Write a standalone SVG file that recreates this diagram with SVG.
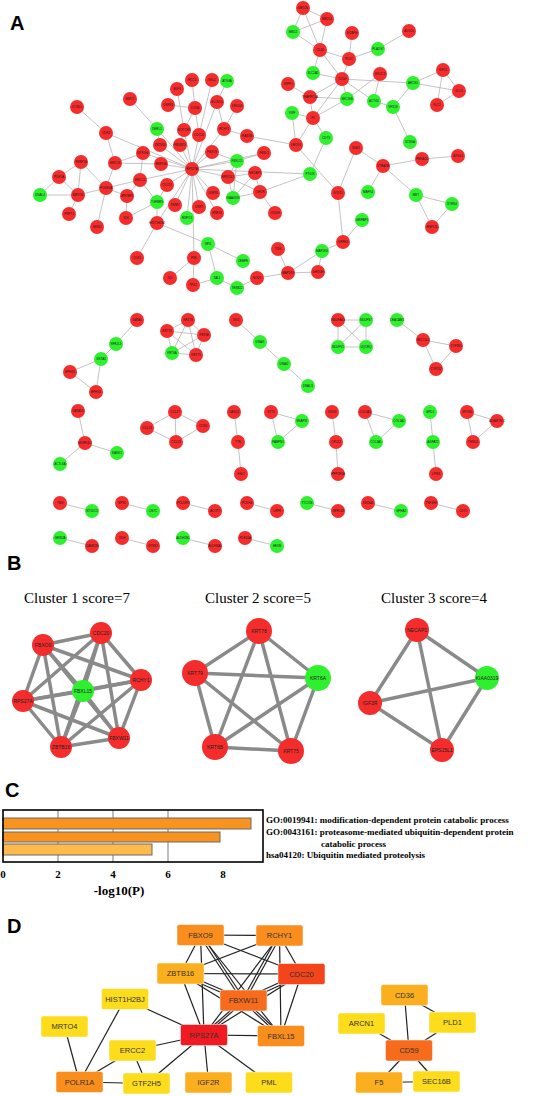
<svg xmlns="http://www.w3.org/2000/svg" width="533" height="1096" viewBox="0 0 533 1096">
<style>
.e{stroke:#b5b5b5;stroke-width:0.8;fill:none}
.r{fill:#f42c2c}
.g{fill:#2ef02e}
.t{font-family:"Liberation Sans",Arial,sans-serif;font-size:3px;text-anchor:middle;fill:#1a1a1a}
.pl{font-family:"Liberation Sans",Arial,sans-serif;font-weight:bold;font-size:20px;fill:#000}
.be{stroke:#8a8a8a;stroke-width:3.5;stroke-linecap:round}
.bt{font-family:"Liberation Sans",Arial,sans-serif;font-size:5px;text-anchor:middle;fill:#222}
.ct{font-family:"Liberation Serif","Times New Roman",serif;font-size:15px;text-anchor:middle;fill:#000}
.gt{font-family:"Liberation Serif","Times New Roman",serif;font-weight:bold;font-size:9px;fill:#000}
.ax{font-family:"Liberation Serif","Times New Roman",serif;font-weight:bold;font-size:11px;text-anchor:middle;fill:#000}
.de{stroke:#222;stroke-width:1.2}
.dt{font-family:"Liberation Sans",Arial,sans-serif;font-size:7.5px;text-anchor:middle;fill:#333}
.dr{stroke:#fff;stroke-width:0.5}
</style>

<!-- Panel labels -->
<text class="pl" x="10" y="30">A</text>
<text class="pl" x="7" y="570">B</text>
<text class="pl" x="5" y="797">C</text>
<text class="pl" x="7" y="933">D</text>

<!-- ================= PANEL A connectors ================= -->
<g id="a-edges" class="e">
<line x1="77" y1="107" x2="106" y2="133"/>
<line x1="106" y1="133" x2="192" y2="169"/>
<line x1="106" y1="133" x2="115" y2="163"/>
<line x1="130" y1="99" x2="157" y2="129"/>
<line x1="177" y1="89" x2="184" y2="130"/>
<line x1="192" y1="80" x2="195" y2="108"/>
<line x1="168" y1="105" x2="195" y2="108"/>
<line x1="195" y1="108" x2="184" y2="130"/>
<line x1="195" y1="108" x2="199" y2="135"/>
<line x1="157" y1="129" x2="160" y2="145"/>
<line x1="157" y1="129" x2="192" y2="169"/>
<line x1="184" y1="130" x2="192" y2="169"/>
<line x1="184" y1="130" x2="180" y2="145"/>
<line x1="212" y1="80" x2="199" y2="135"/>
<line x1="227" y1="81" x2="217" y2="102"/>
<line x1="217" y1="102" x2="224" y2="129"/>
<line x1="217" y1="102" x2="192" y2="169"/>
<line x1="237" y1="106" x2="224" y2="129"/>
<line x1="224" y1="129" x2="247" y2="136"/>
<line x1="224" y1="129" x2="192" y2="169"/>
<line x1="247" y1="136" x2="296" y2="145"/>
<line x1="199" y1="135" x2="192" y2="169"/>
<line x1="160" y1="145" x2="192" y2="169"/>
<line x1="180" y1="145" x2="192" y2="169"/>
<line x1="81" y1="162" x2="59" y2="177"/>
<line x1="81" y1="162" x2="78" y2="195"/>
<line x1="81" y1="162" x2="106" y2="188"/>
<line x1="59" y1="177" x2="40" y2="195"/>
<line x1="59" y1="177" x2="78" y2="195"/>
<line x1="40" y1="195" x2="78" y2="195"/>
<line x1="78" y1="195" x2="106" y2="188"/>
<line x1="69" y1="214" x2="78" y2="195"/>
<line x1="106" y1="188" x2="115" y2="163"/>
<line x1="106" y1="188" x2="140" y2="180"/>
<line x1="106" y1="188" x2="127" y2="196"/>
<line x1="106" y1="188" x2="97" y2="227"/>
<line x1="115" y1="163" x2="143" y2="153"/>
<line x1="115" y1="163" x2="161" y2="164"/>
<line x1="143" y1="153" x2="140" y2="180"/>
<line x1="143" y1="153" x2="192" y2="169"/>
<line x1="161" y1="164" x2="192" y2="169"/>
<line x1="140" y1="180" x2="192" y2="169"/>
<line x1="140" y1="180" x2="127" y2="196"/>
<line x1="140" y1="180" x2="157" y2="202"/>
<line x1="127" y1="196" x2="126" y2="218"/>
<line x1="167" y1="185" x2="192" y2="169"/>
<line x1="167" y1="185" x2="157" y2="202"/>
<line x1="157" y1="202" x2="126" y2="218"/>
<line x1="157" y1="202" x2="157" y2="223"/>
<line x1="175" y1="205" x2="192" y2="169"/>
<line x1="157" y1="223" x2="192" y2="169"/>
<line x1="157" y1="223" x2="137" y2="258"/>
<line x1="157" y1="223" x2="208" y2="244"/>
<line x1="187" y1="218" x2="192" y2="169"/>
<line x1="199" y1="207" x2="192" y2="169"/>
<line x1="192" y1="169" x2="194" y2="258"/>
<line x1="194" y1="258" x2="170" y2="278"/>
<line x1="194" y1="258" x2="193" y2="285"/>
<line x1="212" y1="152" x2="192" y2="169"/>
<line x1="212" y1="152" x2="237" y2="161"/>
<line x1="237" y1="161" x2="192" y2="169"/>
<line x1="237" y1="161" x2="264" y2="153"/>
<line x1="237" y1="161" x2="228" y2="177"/>
<line x1="237" y1="161" x2="233" y2="198"/>
<line x1="264" y1="153" x2="192" y2="169"/>
<line x1="228" y1="177" x2="192" y2="169"/>
<line x1="228" y1="177" x2="255" y2="173"/>
<line x1="228" y1="177" x2="233" y2="198"/>
<line x1="228" y1="177" x2="260" y2="192"/>
<line x1="255" y1="173" x2="233" y2="198"/>
<line x1="255" y1="173" x2="260" y2="192"/>
<line x1="233" y1="198" x2="260" y2="192"/>
<line x1="213" y1="193" x2="192" y2="169"/>
<line x1="217" y1="213" x2="192" y2="169"/>
<line x1="260" y1="192" x2="275" y2="213"/>
<line x1="260" y1="192" x2="310" y2="174"/>
<line x1="192" y1="169" x2="310" y2="174"/>
<line x1="310" y1="174" x2="326" y2="138"/>
<line x1="296" y1="145" x2="338" y2="193"/>
<line x1="296" y1="145" x2="292" y2="113"/>
<line x1="296" y1="145" x2="313" y2="118"/>
<line x1="356" y1="148" x2="338" y2="193"/>
<line x1="356" y1="148" x2="383" y2="166"/>
<line x1="338" y1="193" x2="343" y2="242"/>
<line x1="343" y1="242" x2="362" y2="220"/>
<line x1="343" y1="242" x2="322" y2="251"/>
<line x1="322" y1="251" x2="318" y2="272"/>
<line x1="322" y1="251" x2="288" y2="273"/>
<line x1="278" y1="249" x2="288" y2="273"/>
<line x1="288" y1="273" x2="318" y2="272"/>
<line x1="288" y1="273" x2="257" y2="278"/>
<line x1="257" y1="278" x2="237" y2="288"/>
<line x1="208" y1="244" x2="243" y2="261"/>
<line x1="208" y1="244" x2="217" y2="278"/>
<line x1="217" y1="278" x2="237" y2="288"/>
<line x1="217" y1="278" x2="193" y2="285"/>
<line x1="303" y1="8" x2="327" y2="19"/>
<line x1="303" y1="8" x2="293" y2="32"/>
<line x1="303" y1="8" x2="320" y2="50"/>
<line x1="327" y1="19" x2="293" y2="32"/>
<line x1="327" y1="19" x2="320" y2="50"/>
<line x1="293" y1="32" x2="320" y2="50"/>
<line x1="352" y1="33" x2="349" y2="59"/>
<line x1="320" y1="50" x2="349" y2="59"/>
<line x1="320" y1="50" x2="313" y2="73"/>
<line x1="320" y1="50" x2="342" y2="79"/>
<line x1="349" y1="59" x2="342" y2="79"/>
<line x1="349" y1="59" x2="378" y2="49"/>
<line x1="313" y1="73" x2="342" y2="79"/>
<line x1="342" y1="79" x2="310" y2="97"/>
<line x1="342" y1="79" x2="347" y2="99"/>
<line x1="342" y1="79" x2="313" y2="118"/>
<line x1="342" y1="79" x2="413" y2="83"/>
<line x1="342" y1="79" x2="374" y2="101"/>
<line x1="288" y1="84" x2="310" y2="97"/>
<line x1="310" y1="97" x2="347" y2="99"/>
<line x1="310" y1="97" x2="313" y2="118"/>
<line x1="347" y1="99" x2="313" y2="118"/>
<line x1="347" y1="99" x2="380" y2="74"/>
<line x1="292" y1="113" x2="313" y2="118"/>
<line x1="313" y1="118" x2="326" y2="138"/>
<line x1="409" y1="31" x2="378" y2="49"/>
<line x1="380" y1="74" x2="374" y2="101"/>
<line x1="413" y1="83" x2="443" y2="70"/>
<line x1="413" y1="83" x2="459" y2="91"/>
<line x1="413" y1="83" x2="393" y2="107"/>
<line x1="443" y1="70" x2="459" y2="91"/>
<line x1="443" y1="70" x2="437" y2="105"/>
<line x1="437" y1="105" x2="459" y2="91"/>
<line x1="374" y1="101" x2="393" y2="107"/>
<line x1="393" y1="107" x2="410" y2="142"/>
<line x1="383" y1="166" x2="422" y2="159"/>
<line x1="422" y1="159" x2="458" y2="156"/>
<line x1="383" y1="166" x2="368" y2="192"/>
<line x1="383" y1="166" x2="416" y2="195"/>
<line x1="416" y1="195" x2="452" y2="204"/>
<line x1="416" y1="195" x2="432" y2="227"/>
<line x1="452" y1="204" x2="432" y2="227"/>
<!-- lower components -->
<line x1="137" y1="320" x2="116" y2="344"/>
<line x1="116" y1="344" x2="101" y2="359"/>
<line x1="101" y1="359" x2="70" y2="372"/>
<line x1="101" y1="359" x2="96" y2="392"/>
<line x1="70" y1="372" x2="96" y2="392"/>
<line x1="188" y1="320" x2="167" y2="331"/>
<line x1="188" y1="320" x2="172" y2="353"/>
<line x1="188" y1="320" x2="196" y2="355"/>
<line x1="188" y1="320" x2="204" y2="335"/>
<line x1="167" y1="331" x2="172" y2="353"/>
<line x1="167" y1="331" x2="196" y2="355"/>
<line x1="167" y1="331" x2="204" y2="335"/>
<line x1="172" y1="353" x2="196" y2="355"/>
<line x1="172" y1="353" x2="204" y2="335"/>
<line x1="196" y1="355" x2="204" y2="335"/>
<line x1="236" y1="320" x2="260" y2="342"/>
<line x1="260" y1="342" x2="284" y2="364"/>
<line x1="284" y1="364" x2="308" y2="386"/>
<line x1="338" y1="320" x2="366" y2="320"/>
<line x1="338" y1="320" x2="338" y2="347"/>
<line x1="338" y1="320" x2="366" y2="347"/>
<line x1="366" y1="320" x2="338" y2="347"/>
<line x1="366" y1="320" x2="366" y2="347"/>
<line x1="338" y1="347" x2="366" y2="347"/>
<line x1="397" y1="320" x2="423" y2="340"/>
<line x1="423" y1="340" x2="456" y2="346"/>
<line x1="423" y1="340" x2="436" y2="369"/>
<line x1="456" y1="346" x2="436" y2="369"/>
<line x1="78" y1="411" x2="85" y2="443"/>
<line x1="85" y1="443" x2="117" y2="453"/>
<line x1="85" y1="443" x2="60" y2="464"/>
<line x1="175" y1="412" x2="147" y2="428"/>
<line x1="175" y1="412" x2="176" y2="442"/>
<line x1="147" y1="428" x2="176" y2="442"/>
<line x1="175" y1="412" x2="203" y2="426"/>
<line x1="176" y1="442" x2="203" y2="426"/>
<line x1="234" y1="412" x2="238" y2="442"/>
<line x1="238" y1="442" x2="241" y2="474"/>
<line x1="271" y1="412" x2="302" y2="421"/>
<line x1="271" y1="412" x2="278" y2="442"/>
<line x1="302" y1="421" x2="278" y2="442"/>
<line x1="332" y1="412" x2="336" y2="442"/>
<line x1="336" y1="442" x2="338" y2="474"/>
<line x1="365" y1="412" x2="399" y2="421"/>
<line x1="365" y1="412" x2="376" y2="442"/>
<line x1="399" y1="421" x2="376" y2="442"/>
<line x1="430" y1="412" x2="433" y2="442"/>
<line x1="433" y1="442" x2="436" y2="474"/>
<line x1="467" y1="412" x2="497" y2="421"/>
<line x1="467" y1="412" x2="473" y2="442"/>
<line x1="497" y1="421" x2="473" y2="442"/>
<line x1="60" y1="503" x2="92" y2="511"/>
<line x1="122" y1="503" x2="153" y2="511"/>
<line x1="183" y1="503" x2="215" y2="511"/>
<line x1="247" y1="503" x2="277" y2="511"/>
<line x1="307" y1="503" x2="338" y2="511"/>
<line x1="368" y1="503" x2="401" y2="511"/>
<line x1="431" y1="503" x2="463" y2="511"/>
<line x1="60" y1="538" x2="92" y2="546"/>
<line x1="122" y1="538" x2="153" y2="546"/>
<line x1="183" y1="538" x2="215" y2="546"/>
<line x1="245" y1="538" x2="277" y2="546"/>
</g>

<!-- ================= PANEL A nodes ================= -->
<g id="a-nodes">
<g id="nCCNL1"><circle class="r" cx="77" cy="107" r="7"/><text class="t" x="77" y="108">CCNL1</text></g>
<g id="nEMC7"><circle class="r" cx="130" cy="99" r="7"/><text class="t" x="130" y="100">EMC7</text></g>
<g id="nELF3"><circle class="r" cx="177" cy="89" r="7"/><text class="t" x="177" y="90">ELF3</text></g>
<g id="nRCC2"><circle class="r" cx="192" cy="80" r="7"/><text class="t" x="192" y="81">RCC2</text></g>
<g id="nUSP44"><circle class="r" cx="168" cy="105" r="7"/><text class="t" x="168" y="106">USP44</text></g>
<g id="nCOG6"><circle class="r" cx="195" cy="108" r="7"/><text class="t" x="195" y="109">COG6</text></g>
<g id="nDERL1"><circle class="g" cx="157" cy="129" r="7"/><text class="t" x="157" y="130">DERL1</text></g>
<g id="nNOTCH3"><circle class="r" cx="184" cy="130" r="7"/><text class="t" x="184" y="131">NOTCH3</text></g>
<g id="nCDR2"><circle class="r" cx="106" cy="133" r="7"/><text class="t" x="106" y="134">CDR2</text></g>
<g id="nNSL1"><circle class="r" cx="212" cy="80" r="7"/><text class="t" x="212" y="81">NSL1</text></g>
<g id="nATG4A"><circle class="g" cx="227" cy="81" r="7"/><text class="t" x="227" y="82">ATG4A</text></g>
<g id="nELOVL6"><circle class="r" cx="217" cy="102" r="7"/><text class="t" x="217" y="103">ELOVL6</text></g>
<g id="nDHDDS"><circle class="r" cx="237" cy="106" r="7"/><text class="t" x="237" y="107">DHDDS</text></g>
<g id="nRCHY1"><circle class="r" cx="224" cy="129" r="7"/><text class="t" x="224" y="130">RCHY1</text></g>
<g id="nRAB3B"><circle class="r" cx="247" cy="136" r="7"/><text class="t" x="247" y="137">RAB3B</text></g>
<g id="nCDC20"><circle class="r" cx="199" cy="135" r="7"/><text class="t" x="199" y="136">CDC20</text></g>
<g id="nZBTB16"><circle class="r" cx="160" cy="145" r="7"/><text class="t" x="160" y="146">ZBTB16</text></g>
<g id="nFBXW11"><circle class="r" cx="180" cy="145" r="7"/><text class="t" x="180" y="146">FBXW11</text></g>
<g id="nFKBP1B"><circle class="r" cx="81" cy="162" r="7"/><text class="t" x="81" y="163">FKBP1B</text></g>
<g id="nPDE1A"><circle class="r" cx="59" cy="177" r="7"/><text class="t" x="59" y="178">PDE1A</text></g>
<g id="nDNAL4"><circle class="g" cx="40" cy="195" r="7"/><text class="t" x="40" y="196">DNAL4</text></g>
<g id="nMRTO4"><circle class="r" cx="78" cy="195" r="7"/><text class="t" x="78" y="196">MRTO4</text></g>
<g id="nPOLR1A"><circle class="r" cx="106" cy="188" r="7"/><text class="t" x="106" y="189">POLR1A</text></g>
<g id="nPNPT1"><circle class="r" cx="69" cy="214" r="7"/><text class="t" x="69" y="215">PNPT1</text></g>
<g id="nMKI67"><circle class="r" cx="97" cy="227" r="7"/><text class="t" x="97" y="228">MKI67</text></g>
<g id="nERCC8"><circle class="r" cx="115" cy="163" r="7"/><text class="t" x="115" y="164">ERCC8</text></g>
<g id="nGTF2H5"><circle class="r" cx="143" cy="153" r="7"/><text class="t" x="143" y="154">GTF2H5</text></g>
<g id="nRNF168"><circle class="r" cx="161" cy="164" r="7"/><text class="t" x="161" y="165">RNF168</text></g>
<g id="nERCC2"><circle class="r" cx="140" cy="180" r="7"/><text class="t" x="140" y="181">ERCC2</text></g>
<g id="nIRF2BP2"><circle class="r" cx="127" cy="196" r="7"/><text class="t" x="127" y="197">IRF2BP2</text></g>
<g id="nCDC37"><circle class="r" cx="167" cy="185" r="7"/><text class="t" x="167" y="186">CDC37</text></g>
<g id="nTGFBR3"><circle class="g" cx="157" cy="202" r="7"/><text class="t" x="157" y="203">TGFBR3</text></g>
<g id="nTRIM7"><circle class="r" cx="175" cy="205" r="7"/><text class="t" x="175" y="206">TRIM7</text></g>
<g id="nSLK"><circle class="r" cx="126" cy="218" r="7"/><text class="t" x="126" y="219">SLK</text></g>
<g id="nHIST1H2BJ"><circle class="r" cx="157" cy="223" r="7"/><text class="t" x="157" y="224">HIST1H2BJ</text></g>
<g id="nRSPO1"><circle class="g" cx="187" cy="218" r="7"/><text class="t" x="187" y="219">RSPO1</text></g>
<g id="nUSP2"><circle class="r" cx="199" cy="207" r="7"/><text class="t" x="199" y="208">USP2</text></g>
<g id="nCDS1"><circle class="r" cx="137" cy="258" r="7"/><text class="t" x="137" y="259">CDS1</text></g>
<g id="nPML"><circle class="r" cx="194" cy="258" r="7"/><text class="t" x="194" y="259">PML</text></g>
<g id="nIVD"><circle class="r" cx="170" cy="278" r="7"/><text class="t" x="170" y="279">IVD</text></g>
<g id="nTPX2"><circle class="r" cx="193" cy="285" r="7"/><text class="t" x="193" y="286">TPX2</text></g>
<g id="nFBXO9"><circle class="r" cx="212" cy="152" r="7"/><text class="t" x="212" y="153">FBXO9</text></g>
<g id="nFBXL15"><circle class="g" cx="237" cy="161" r="7"/><text class="t" x="237" y="162">FBXL15</text></g>
<g id="nFBXL2"><circle class="r" cx="264" cy="153" r="7"/><text class="t" x="264" y="154">FBXL2</text></g>
<g id="nEPS15L1"><circle class="r" cx="228" cy="177" r="7"/><text class="t" x="228" y="178">EPS15L1</text></g>
<g id="nNECAP1"><circle class="r" cx="255" cy="173" r="7"/><text class="t" x="255" y="174">NECAP1</text></g>
<g id="nUSP30"><circle class="r" cx="213" cy="193" r="7"/><text class="t" x="213" y="194">USP30</text></g>
<g id="nKIAA0319"><circle class="g" cx="233" cy="198" r="7"/><text class="t" x="233" y="199">KIAA0319</text></g>
<g id="nIGF2R"><circle class="r" cx="260" cy="192" r="7"/><text class="t" x="260" y="193">IGF2R</text></g>
<g id="nRNF14"><circle class="r" cx="217" cy="213" r="7"/><text class="t" x="217" y="214">RNF14</text></g>
<g id="nOGDH"><circle class="r" cx="275" cy="213" r="7"/><text class="t" x="275" y="214">OGDH</text></g>
<g id="nRPS27A"><circle class="r" cx="192" cy="169" r="7"/><text class="t" x="192" y="170">RPS27A</text></g>
<g id="nPTGIS"><circle class="g" cx="310" cy="174" r="7"/><text class="t" x="310" y="175">PTGIS</text></g>
<g id="nLMOD1"><circle class="r" cx="296" cy="145" r="7"/><text class="t" x="296" y="146">LMOD1</text></g>
<g id="nSGK1"><circle class="r" cx="356" cy="148" r="7"/><text class="t" x="356" y="149">SGK1</text></g>
<g id="nSOX11"><circle class="r" cx="338" cy="193" r="7"/><text class="t" x="338" y="194">SOX11</text></g>
<g id="nGPR68"><circle class="r" cx="343" cy="242" r="7"/><text class="t" x="343" y="243">GPR68</text></g>
<g id="nGRIPAP1"><circle class="g" cx="362" cy="220" r="7"/><text class="t" x="362" y="221">GRIPAP1</text></g>
<g id="nMAP2K6"><circle class="g" cx="322" cy="251" r="7"/><text class="t" x="322" y="252">MAP2K6</text></g>
<g id="nTNIK"><circle class="r" cx="278" cy="249" r="7"/><text class="t" x="278" y="250">TNIK</text></g>
<g id="nDHODH"><circle class="r" cx="318" cy="272" r="7"/><text class="t" x="318" y="273">DHODH</text></g>
<g id="nMAP2K3"><circle class="r" cx="288" cy="273" r="7"/><text class="t" x="288" y="274">MAP2K3</text></g>
<g id="nNOD2"><circle class="r" cx="257" cy="278" r="7"/><text class="t" x="257" y="279">NOD2</text></g>
<g id="nSPI1"><circle class="g" cx="208" cy="244" r="7"/><text class="t" x="208" y="245">SPI1</text></g>
<g id="nCEBPE"><circle class="g" cx="243" cy="261" r="7"/><text class="t" x="243" y="262">CEBPE</text></g>
<g id="nTAL1"><circle class="g" cx="217" cy="278" r="7"/><text class="t" x="217" y="279">TAL1</text></g>
<g id="nTRIM22"><circle class="g" cx="237" cy="288" r="7"/><text class="t" x="237" y="289">TRIM22</text></g>
<g id="nMED26"><circle class="r" cx="303" cy="8" r="7"/><text class="t" x="303" y="9">MED26</text></g>
<g id="nMED14"><circle class="r" cx="327" cy="19" r="7"/><text class="t" x="327" y="20">MED14</text></g>
<g id="nMBD2"><circle class="g" cx="293" cy="32" r="7"/><text class="t" x="293" y="33">MBD2</text></g>
<g id="nNCAPH"><circle class="r" cx="352" cy="33" r="7"/><text class="t" x="352" y="34">NCAPH</text></g>
<g id="nCD36"><circle class="r" cx="320" cy="50" r="7"/><text class="t" x="320" y="51">CD36</text></g>
<g id="nPLD1"><circle class="r" cx="349" cy="59" r="7"/><text class="t" x="349" y="60">PLD1</text></g>
<g id="nSLC2A1"><circle class="g" cx="313" cy="73" r="7"/><text class="t" x="313" y="74">SLC2A1</text></g>
<g id="nCD59"><circle class="r" cx="342" cy="79" r="7"/><text class="t" x="342" y="80">CD59</text></g>
<g id="nWIPF1"><circle class="r" cx="288" cy="84" r="7"/><text class="t" x="288" y="85">WIPF1</text></g>
<g id="nTRAPPC6A"><circle class="r" cx="310" cy="97" r="7"/><text class="t" x="310" y="98">TRAPPC6A</text></g>
<g id="nSEC16B"><circle class="g" cx="347" cy="99" r="7"/><text class="t" x="347" y="100">SEC16B</text></g>
<g id="nVWF"><circle class="g" cx="292" cy="113" r="7"/><text class="t" x="292" y="114">VWF</text></g>
<g id="nF5"><circle class="r" cx="313" cy="118" r="7"/><text class="t" x="313" y="119">F5</text></g>
<g id="nCD73"><circle class="g" cx="326" cy="138" r="7"/><text class="t" x="326" y="139">CD73</text></g>
<g id="nALG10"><circle class="r" cx="409" cy="31" r="7"/><text class="t" x="409" y="32">ALG10</text></g>
<g id="nPLA2G7"><circle class="g" cx="378" cy="49" r="7"/><text class="t" x="378" y="50">PLA2G7</text></g>
<g id="nEXOC3"><circle class="r" cx="380" cy="74" r="7"/><text class="t" x="380" y="75">EXOC3</text></g>
<g id="nARCN1"><circle class="g" cx="413" cy="83" r="7"/><text class="t" x="413" y="84">ARCN1</text></g>
<g id="nKIF15"><circle class="r" cx="443" cy="70" r="7"/><text class="t" x="443" y="71">KIF15</text></g>
<g id="nKLC3"><circle class="r" cx="459" cy="91" r="7"/><text class="t" x="459" y="92">KLC3</text></g>
<g id="nKLC1"><circle class="r" cx="437" cy="105" r="7"/><text class="t" x="437" y="106">KLC1</text></g>
<g id="nACTG1"><circle class="g" cx="374" cy="101" r="7"/><text class="t" x="374" y="102">ACTG1</text></g>
<g id="nVPS18"><circle class="g" cx="393" cy="107" r="7"/><text class="t" x="393" y="108">VPS18</text></g>
<g id="nSCN5A"><circle class="g" cx="410" cy="142" r="7"/><text class="t" x="410" y="143">SCN5A</text></g>
<g id="nSTRADB"><circle class="r" cx="383" cy="166" r="7"/><text class="t" x="383" y="167">STRADB</text></g>
<g id="nPRKAG1"><circle class="r" cx="422" cy="159" r="7"/><text class="t" x="422" y="160">PRKAG1</text></g>
<g id="nATG14"><circle class="r" cx="458" cy="156" r="7"/><text class="t" x="458" y="157">ATG14</text></g>
<g id="nMAPK4"><circle class="g" cx="368" cy="192" r="7"/><text class="t" x="368" y="193">MAPK4</text></g>
<g id="nMET"><circle class="g" cx="416" cy="195" r="7"/><text class="t" x="416" y="196">MET</text></g>
<g id="nSTRN4"><circle class="g" cx="452" cy="204" r="7"/><text class="t" x="452" y="205">STRN4</text></g>
<g id="nRNF125"><circle class="r" cx="432" cy="227" r="7"/><text class="t" x="432" y="228">RNF125</text></g>
<!-- lower components -->
<g id="nGATA1"><circle class="r" cx="137" cy="320" r="7"/><text class="t" x="137" y="321">GATA1</text></g>
<g id="nNFE2L3"><circle class="g" cx="116" cy="344" r="7"/><text class="t" x="116" y="345">NFE2L3</text></g>
<g id="nGSTA2"><circle class="g" cx="101" cy="359" r="7"/><text class="t" x="101" y="360">GSTA2</text></g>
<g id="nEPHX1"><circle class="r" cx="70" cy="372" r="7"/><text class="t" x="70" y="373">EPHX1</text></g>
<g id="nEPHX3"><circle class="r" cx="96" cy="392" r="7"/><text class="t" x="96" y="393">EPHX3</text></g>
<g id="nKRT78a"><circle class="r" cx="188" cy="320" r="7"/><text class="t" x="188" y="321">KRT78</text></g>
<g id="nKRT79a"><circle class="r" cx="167" cy="331" r="7"/><text class="t" x="167" y="332">KRT79</text></g>
<g id="nKRT6Aa"><circle class="g" cx="172" cy="353" r="7"/><text class="t" x="172" y="354">KRT6A</text></g>
<g id="nKRT75a"><circle class="r" cx="196" cy="355" r="7"/><text class="t" x="196" y="356">KRT75</text></g>
<g id="nKRT6Ba"><circle class="r" cx="204" cy="335" r="7"/><text class="t" x="204" y="336">KRT6B</text></g>
<g id="nSIX3"><circle class="r" cx="236" cy="320" r="7"/><text class="t" x="236" y="321">SIX3</text></g>
<g id="nDNAI1"><circle class="g" cx="260" cy="342" r="7"/><text class="t" x="260" y="343">DNAI1</text></g>
<g id="nDNAI2"><circle class="g" cx="284" cy="364" r="7"/><text class="t" x="284" y="365">DNAI2</text></g>
<g id="nDNALI1"><circle class="g" cx="308" cy="386" r="7"/><text class="t" x="308" y="387">DNALI1</text></g>
<g id="nNDUFA13"><circle class="r" cx="338" cy="320" r="7"/><text class="t" x="338" y="321">NDUFA13</text></g>
<g id="nNDUFS7"><circle class="g" cx="366" cy="320" r="7"/><text class="t" x="366" y="321">NDUFS7</text></g>
<g id="nNDUFV1"><circle class="g" cx="338" cy="347" r="7"/><text class="t" x="338" y="348">NDUFV1</text></g>
<g id="nUQCRQ"><circle class="g" cx="366" cy="347" r="7"/><text class="t" x="366" y="348">UQCRQ</text></g>
<g id="nCEACAM1"><circle class="g" cx="397" cy="320" r="7"/><text class="t" x="397" y="321">CEACAM1</text></g>
<g id="nSEC14L2"><circle class="r" cx="423" cy="340" r="7"/><text class="t" x="423" y="341">SEC14L2</text></g>
<g id="nCYP2E1"><circle class="r" cx="456" cy="346" r="7"/><text class="t" x="456" y="347">CYP2E1</text></g>
<g id="nCYP2J2"><circle class="r" cx="436" cy="369" r="7"/><text class="t" x="436" y="370">CYP2J2</text></g>
<g id="nGATAD1"><circle class="r" cx="78" cy="411" r="7"/><text class="t" x="78" y="412">GATAD1</text></g>
<g id="nMORF4L1"><circle class="r" cx="85" cy="443" r="7"/><text class="t" x="85" y="444">MORF4L1</text></g>
<g id="nKANK1"><circle class="g" cx="117" cy="453" r="7"/><text class="t" x="117" y="454">KANK1</text></g>
<g id="nACTL6A"><circle class="g" cx="60" cy="464" r="7"/><text class="t" x="60" y="465">ACTL6A</text></g>
<g id="nCCL27"><circle class="r" cx="175" cy="412" r="7"/><text class="t" x="175" y="413">CCL27</text></g>
<g id="nCCL13"><circle class="r" cx="147" cy="428" r="7"/><text class="t" x="147" y="429">CCL13</text></g>
<g id="nCCL19"><circle class="r" cx="176" cy="442" r="7"/><text class="t" x="176" y="443">CCL19</text></g>
<g id="nCCR4"><circle class="r" cx="203" cy="426" r="7"/><text class="t" x="203" y="427">CCR4</text></g>
<g id="nCASQ2"><circle class="r" cx="234" cy="412" r="7"/><text class="t" x="234" y="413">CASQ2</text></g>
<g id="nTTN"><circle class="r" cx="238" cy="442" r="7"/><text class="t" x="238" y="443">TTN</text></g>
<g id="nFHL2"><circle class="r" cx="241" cy="474" r="7"/><text class="t" x="241" y="475">FHL2</text></g>
<g id="nSYT2"><circle class="r" cx="271" cy="412" r="7"/><text class="t" x="271" y="413">SYT2</text></g>
<g id="nSNAP91"><circle class="g" cx="302" cy="421" r="7"/><text class="t" x="302" y="422">SNAP91</text></g>
<g id="nPABPN1"><circle class="g" cx="278" cy="442" r="7"/><text class="t" x="278" y="443">PABPN1</text></g>
<g id="nDSG3"><circle class="r" cx="332" cy="412" r="7"/><text class="t" x="332" y="413">DSG3</text></g>
<g id="nCPLX2"><circle class="r" cx="336" cy="442" r="7"/><text class="t" x="336" y="443">CPLX2</text></g>
<g id="nPPP1R1A"><circle class="r" cx="338" cy="474" r="7"/><text class="t" x="338" y="475">PPP1R1A</text></g>
<g id="nCOL5A1"><circle class="r" cx="365" cy="412" r="7"/><text class="t" x="365" y="413">COL5A1</text></g>
<g id="nCOL1A2"><circle class="g" cx="399" cy="421" r="7"/><text class="t" x="399" y="422">COL1A2</text></g>
<g id="nCOL4A1"><circle class="g" cx="376" cy="442" r="7"/><text class="t" x="376" y="443">COL4A1</text></g>
<g id="nGPD1"><circle class="g" cx="430" cy="412" r="7"/><text class="t" x="430" y="413">GPD1</text></g>
<g id="nAGPAT2"><circle class="g" cx="433" cy="442" r="7"/><text class="t" x="433" y="443">AGPAT2</text></g>
<g id="nLPIN1"><circle class="r" cx="436" cy="474" r="7"/><text class="t" x="436" y="475">LPIN1</text></g>
<g id="nSPON1"><circle class="r" cx="467" cy="412" r="7"/><text class="t" x="467" y="413">SPON1</text></g>
<g id="nADAMTSL1"><circle class="r" cx="497" cy="421" r="7"/><text class="t" x="497" y="422">ADAMTSL1</text></g>
<g id="nTHSD4"><circle class="r" cx="473" cy="442" r="7"/><text class="t" x="473" y="443">THSD4</text></g>
<g id="nTNN"><circle class="r" cx="60" cy="503" r="7"/><text class="t" x="60" y="504">TNN</text></g>
<g id="nNT5DC3"><circle class="g" cx="92" cy="511" r="7"/><text class="t" x="92" y="512">NT5DC3</text></g>
<g id="nNPS2"><circle class="r" cx="122" cy="503" r="7"/><text class="t" x="122" y="504">NPS2</text></g>
<g id="nLIN7C"><circle class="g" cx="153" cy="511" r="7"/><text class="t" x="153" y="512">LIN7C</text></g>
<g id="nPOLDIP3"><circle class="r" cx="183" cy="503" r="7"/><text class="t" x="183" y="504">POLDIP3</text></g>
<g id="nACOT7"><circle class="r" cx="215" cy="511" r="7"/><text class="t" x="215" y="512">ACOT7</text></g>
<g id="nPCDH8"><circle class="r" cx="247" cy="503" r="7"/><text class="t" x="247" y="504">PCDH8</text></g>
<g id="nLRP8"><circle class="r" cx="277" cy="511" r="7"/><text class="t" x="277" y="512">LRP8</text></g>
<g id="nTTC21B"><circle class="g" cx="307" cy="503" r="7"/><text class="t" x="307" y="504">TTC21B</text></g>
<g id="nGPR143"><circle class="r" cx="338" cy="511" r="7"/><text class="t" x="338" y="512">GPR143</text></g>
<g id="nSKIDA1"><circle class="r" cx="368" cy="503" r="7"/><text class="t" x="368" y="504">SKIDA1</text></g>
<g id="nGPHA2"><circle class="g" cx="401" cy="511" r="7"/><text class="t" x="401" y="512">GPHA2</text></g>
<g id="nTNFSF8"><circle class="r" cx="431" cy="503" r="7"/><text class="t" x="431" y="504">TNFSF8</text></g>
<g id="nCD70"><circle class="r" cx="463" cy="511" r="7"/><text class="t" x="463" y="512">CD70</text></g>
<g id="nGRIN2A"><circle class="g" cx="60" cy="538" r="7"/><text class="t" x="60" y="539">GRIN2A</text></g>
<g id="nCAMK2B"><circle class="r" cx="92" cy="546" r="7"/><text class="t" x="92" y="547">CAMK2B</text></g>
<g id="nXDH"><circle class="r" cx="122" cy="538" r="7"/><text class="t" x="122" y="539">XDH</text></g>
<g id="nETNK2"><circle class="r" cx="153" cy="546" r="7"/><text class="t" x="153" y="547">ETNK2</text></g>
<g id="nALDH1B1"><circle class="g" cx="183" cy="538" r="7"/><text class="t" x="183" y="539">ALDH1B1</text></g>
<g id="nALDH3A1"><circle class="r" cx="215" cy="546" r="7"/><text class="t" x="215" y="547">ALDH3A1</text></g>
<g id="nPDE10A"><circle class="r" cx="245" cy="538" r="7"/><text class="t" x="245" y="539">PDE10A</text></g>
<g id="nHEXB"><circle class="g" cx="277" cy="546" r="7"/><text class="t" x="277" y="547">HEXB</text></g>
</g>

<!-- ================= PANEL B ================= -->
<text class="ct" x="77" y="603">Cluster 1 score=7</text>
<text class="ct" x="258" y="603">Cluster 2 score=5</text>
<text class="ct" x="434" y="603">Cluster 3 score=4</text>
<g id="b-edges" class="be">
<line x1="101" y1="633" x2="43" y2="645"/>
<line x1="101" y1="633" x2="141" y2="680"/>
<line x1="101" y1="633" x2="83" y2="691"/>
<line x1="101" y1="633" x2="23" y2="701"/>
<line x1="101" y1="633" x2="61" y2="747"/>
<line x1="101" y1="633" x2="119" y2="738"/>
<line x1="43" y1="645" x2="141" y2="680"/>
<line x1="43" y1="645" x2="83" y2="691"/>
<line x1="43" y1="645" x2="23" y2="701"/>
<line x1="43" y1="645" x2="61" y2="747"/>
<line x1="43" y1="645" x2="119" y2="738"/>
<line x1="141" y1="680" x2="83" y2="691"/>
<line x1="141" y1="680" x2="23" y2="701"/>
<line x1="141" y1="680" x2="61" y2="747"/>
<line x1="141" y1="680" x2="119" y2="738"/>
<line x1="83" y1="691" x2="23" y2="701"/>
<line x1="83" y1="691" x2="61" y2="747"/>
<line x1="83" y1="691" x2="119" y2="738"/>
<line x1="23" y1="701" x2="61" y2="747"/>
<line x1="23" y1="701" x2="119" y2="738"/>
<line x1="61" y1="747" x2="119" y2="738"/>
<line x1="259" y1="631" x2="195" y2="673"/>
<line x1="259" y1="631" x2="318" y2="678"/>
<line x1="259" y1="631" x2="215" y2="747"/>
<line x1="259" y1="631" x2="291" y2="751"/>
<line x1="195" y1="673" x2="318" y2="678"/>
<line x1="195" y1="673" x2="215" y2="747"/>
<line x1="195" y1="673" x2="291" y2="751"/>
<line x1="318" y1="678" x2="215" y2="747"/>
<line x1="318" y1="678" x2="291" y2="751"/>
<line x1="215" y1="747" x2="291" y2="751"/>
<line x1="417" y1="630" x2="487" y2="678"/>
<line x1="417" y1="630" x2="370" y2="703"/>
<line x1="417" y1="630" x2="442" y2="750"/>
<line x1="487" y1="678" x2="370" y2="703"/>
<line x1="487" y1="678" x2="442" y2="750"/>
<line x1="370" y1="703" x2="442" y2="750"/>
</g>
<g id="b-nodes">
<g id="bCDC20"><circle class="r" cx="101" cy="633" r="11"/><text class="bt" x="101" y="635">CDC20</text></g>
<g id="bFBXO9"><circle class="r" cx="43" cy="645" r="11"/><text class="bt" x="43" y="647">FBXO9</text></g>
<g id="bRCHY1"><circle class="r" cx="141" cy="680" r="11"/><text class="bt" x="141" y="682">RCHY1</text></g>
<g id="bFBXL15"><circle class="g" cx="83" cy="691" r="11"/><text class="bt" x="83" y="693">FBXL15</text></g>
<g id="bRPS27A"><circle class="r" cx="23" cy="701" r="11"/><text class="bt" x="23" y="703">RPS27A</text></g>
<g id="bZBTB16"><circle class="r" cx="61" cy="747" r="11"/><text class="bt" x="61" y="749">ZBTB16</text></g>
<g id="bFBXW11"><circle class="r" cx="119" cy="738" r="11"/><text class="bt" x="119" y="740">FBXW11</text></g>
<g id="bKRT78"><circle class="r" cx="259" cy="631" r="13"/><text class="bt" x="259" y="633">KRT78</text></g>
<g id="bKRT79"><circle class="r" cx="195" cy="673" r="13"/><text class="bt" x="195" y="675">KRT79</text></g>
<g id="bKRT6A"><circle class="g" cx="318" cy="678" r="13"/><text class="bt" x="318" y="680">KRT6A</text></g>
<g id="bKRT6B"><circle class="r" cx="215" cy="747" r="13"/><text class="bt" x="215" y="749">KRT6B</text></g>
<g id="bKRT75"><circle class="r" cx="291" cy="751" r="13"/><text class="bt" x="291" y="753">KRT75</text></g>
<g id="bNECAP1"><circle class="r" cx="417" cy="630" r="12"/><text class="bt" x="417" y="632">NECAP1</text></g>
<g id="bKIAA0319"><circle class="g" cx="487" cy="678" r="12"/><text class="bt" x="487" y="680">KIAA0319</text></g>
<g id="bIGF2R"><circle class="r" cx="370" cy="703" r="12"/><text class="bt" x="370" y="705">IGF2R</text></g>
<g id="bEPS15L1"><circle class="r" cx="442" cy="750" r="12"/><text class="bt" x="442" y="752">EPS15L1</text></g>
</g>

<!-- ================= PANEL C ================= -->
<g id="c-chart">
<line x1="58" y1="810" x2="58" y2="862" stroke="#a8a8a8" stroke-width="1.5"/>
<line x1="113" y1="810" x2="113" y2="862" stroke="#a8a8a8" stroke-width="1.5"/>
<line x1="168" y1="810" x2="168" y2="862" stroke="#a8a8a8" stroke-width="1.5"/>
<rect x="3" y="818" width="248" height="11" fill="#f7931e" stroke="#6a6a6a" stroke-width="1"/>
<rect x="3" y="832" width="217" height="10" fill="#f7931e" stroke="#6a6a6a" stroke-width="1"/>
<rect x="3" y="844" width="149" height="11" fill="#fdbb4d" stroke="#6a6a6a" stroke-width="1"/>
<rect x="3" y="810" width="260" height="52" fill="none" stroke="#000" stroke-width="1.6"/>
<text class="ax" x="3" y="878">0</text>
<text class="ax" x="58" y="878">2</text>
<text class="ax" x="113" y="878">4</text>
<text class="ax" x="168" y="878">6</text>
<text class="ax" x="223" y="878">8</text>
<text class="ax" x="119" y="895" style="font-size:13px">-log10(P)</text>
<text class="gt" x="266" y="823">GO:0019941: modification-dependent protein catabolic process</text>
<text class="gt" x="266" y="835">GO:0043161: proteasome-mediated ubiquitin-dependent protein</text>
<text class="gt" x="321" y="847">catabolic process</text>
<text class="gt" x="266" y="858">hsa04120: Ubiquitin mediated proteolysis</text>
</g>

<!-- ================= PANEL D ================= -->
<g id="d-edges" class="de">
<line x1="200.5" y1="935" x2="279.5" y2="935.5"/>
<line x1="200.5" y1="935" x2="180.5" y2="973.5"/>
<line x1="200.5" y1="935" x2="301.5" y2="974"/>
<line x1="199" y1="935" x2="242" y2="1000.5"/>
<line x1="202" y1="935" x2="245" y2="1000.5"/>
<line x1="200.5" y1="935" x2="281" y2="1036"/>
<line x1="200.5" y1="935" x2="204" y2="1035"/>
<line x1="279.5" y1="935.5" x2="180.5" y2="973.5"/>
<line x1="279.5" y1="935.5" x2="301.5" y2="974"/>
<line x1="278" y1="935.5" x2="242" y2="1000.5"/>
<line x1="281" y1="935.5" x2="245" y2="1000.5"/>
<line x1="279.5" y1="935.5" x2="281" y2="1036"/>
<line x1="279.5" y1="935.5" x2="204" y2="1035"/>
<line x1="180.5" y1="973.5" x2="301.5" y2="974"/>
<line x1="180.5" y1="972" x2="243.5" y2="999"/>
<line x1="180.5" y1="975" x2="243.5" y2="1002"/>
<line x1="180.5" y1="973.5" x2="281" y2="1036"/>
<line x1="180.5" y1="973.5" x2="204" y2="1035"/>
<line x1="301.5" y1="972.5" x2="243.5" y2="999"/>
<line x1="301.5" y1="975.5" x2="243.5" y2="1002"/>
<line x1="301.5" y1="974" x2="281" y2="1036"/>
<line x1="301.5" y1="974" x2="204" y2="1035"/>
<line x1="242" y1="1000.5" x2="202.5" y2="1035"/>
<line x1="245" y1="1000.5" x2="205.5" y2="1035"/>
<line x1="242" y1="1000.5" x2="279.5" y2="1036"/>
<line x1="245" y1="1000.5" x2="282.5" y2="1036"/>
<line x1="204" y1="1035" x2="281" y2="1036"/>
<line x1="125" y1="999" x2="204" y2="1035"/>
<line x1="125" y1="999" x2="79.5" y2="1082"/>
<line x1="64.5" y1="1026.5" x2="79.5" y2="1082"/>
<line x1="132.5" y1="1050.5" x2="204" y2="1035"/>
<line x1="132.5" y1="1050.5" x2="79.5" y2="1082"/>
<line x1="132.5" y1="1050.5" x2="146.5" y2="1083.5"/>
<line x1="79.5" y1="1082" x2="146.5" y2="1083.5"/>
<line x1="146.5" y1="1083.5" x2="204" y2="1035"/>
<line x1="208.5" y1="1082.5" x2="204" y2="1035"/>
<line x1="269" y1="1082.5" x2="204" y2="1035"/>
<line x1="404.5" y1="995" x2="409" y2="1050.5"/>
<line x1="404.5" y1="995" x2="452.5" y2="1022.5"/>
<line x1="361.5" y1="1023.5" x2="409" y2="1050.5"/>
<line x1="452.5" y1="1022.5" x2="409" y2="1050.5"/>
<line x1="409" y1="1050.5" x2="379" y2="1082.5"/>
<line x1="409" y1="1050.5" x2="436.5" y2="1081.5"/>
<line x1="379" y1="1082.5" x2="436.5" y2="1081.5"/>
</g>
<g id="d-nodes">
<g id="dFBXO9"><rect class="dr" x="177" y="924.5" width="47" height="21" rx="2" fill="#f98d1d"/><text class="dt" x="200.5" y="937.7">FBXO9</text></g>
<g id="dRCHY1"><rect class="dr" x="256" y="925" width="47" height="21" rx="2" fill="#f98d1d"/><text class="dt" x="279.5" y="938.2">RCHY1</text></g>
<g id="dZBTB16"><rect class="dr" x="157" y="963" width="47" height="21" rx="2" fill="#fbae1e"/><text class="dt" x="180.5" y="976.2">ZBTB16</text></g>
<g id="dCDC20"><rect class="dr" x="278" y="963.5" width="47" height="21" rx="2" fill="#f4441b"/><text class="dt" x="301.5" y="976.7">CDC20</text></g>
<g id="dHIST1H2BJ"><rect class="dr" x="101.5" y="988.5" width="47" height="21" rx="2" fill="#fddc1c"/><text class="dt" x="125" y="1001.7">HIST1H2BJ</text></g>
<g id="dFBXW11"><rect class="dr" x="220" y="990" width="47" height="21" rx="2" fill="#f76b1d"/><text class="dt" x="243.5" y="1003.2">FBXW11</text></g>
<g id="dMRTO4"><rect class="dr" x="41" y="1016" width="47" height="21" rx="2" fill="#fddc1c"/><text class="dt" x="64.5" y="1029.2">MRTO4</text></g>
<g id="dRPS27A"><rect class="dr" x="180.5" y="1024.5" width="47" height="21" rx="2" fill="#ef1a22"/><text class="dt" x="204" y="1037.7">RPS27A</text></g>
<g id="dFBXL15"><rect class="dr" x="257.5" y="1025.5" width="47" height="21" rx="2" fill="#f98d1d"/><text class="dt" x="281" y="1038.7">FBXL15</text></g>
<g id="dERCC2"><rect class="dr" x="109" y="1040" width="47" height="21" rx="2" fill="#fddc1c"/><text class="dt" x="132.5" y="1053.2">ERCC2</text></g>
<g id="dPOLR1A"><rect class="dr" x="56" y="1071.5" width="47" height="21" rx="2" fill="#f98d1d"/><text class="dt" x="79.5" y="1084.7">POLR1A</text></g>
<g id="dGTF2H5"><rect class="dr" x="123" y="1073" width="47" height="21" rx="2" fill="#fddc1c"/><text class="dt" x="146.5" y="1086.2">GTF2H5</text></g>
<g id="dIGF2R"><rect class="dr" x="185" y="1072" width="47" height="21" rx="2" fill="#fbae1e"/><text class="dt" x="208.5" y="1085.2">IGF2R</text></g>
<g id="dPML"><rect class="dr" x="245.5" y="1072" width="47" height="21" rx="2" fill="#fddc1c"/><text class="dt" x="269" y="1085.2">PML</text></g>
<g id="dCD36"><rect class="dr" x="381" y="984.5" width="47" height="21" rx="2" fill="#fbae1e"/><text class="dt" x="404.5" y="997.7">CD36</text></g>
<g id="dARCN1"><rect class="dr" x="338" y="1013" width="47" height="21" rx="2" fill="#fddc1c"/><text class="dt" x="361.5" y="1026.2">ARCN1</text></g>
<g id="dPLD1"><rect class="dr" x="429" y="1012" width="47" height="21" rx="2" fill="#fddc1c"/><text class="dt" x="452.5" y="1025.2">PLD1</text></g>
<g id="dCD59"><rect class="dr" x="385.5" y="1040" width="47" height="21" rx="2" fill="#f76b1d"/><text class="dt" x="409" y="1053.2">CD59</text></g>
<g id="dF5"><rect class="dr" x="355.5" y="1072" width="47" height="21" rx="2" fill="#fbae1e"/><text class="dt" x="379" y="1085.2">F5</text></g>
<g id="dSEC16B"><rect class="dr" x="413" y="1071" width="47" height="21" rx="2" fill="#fddc1c"/><text class="dt" x="436.5" y="1084.2">SEC16B</text></g>
</g>
</svg>
